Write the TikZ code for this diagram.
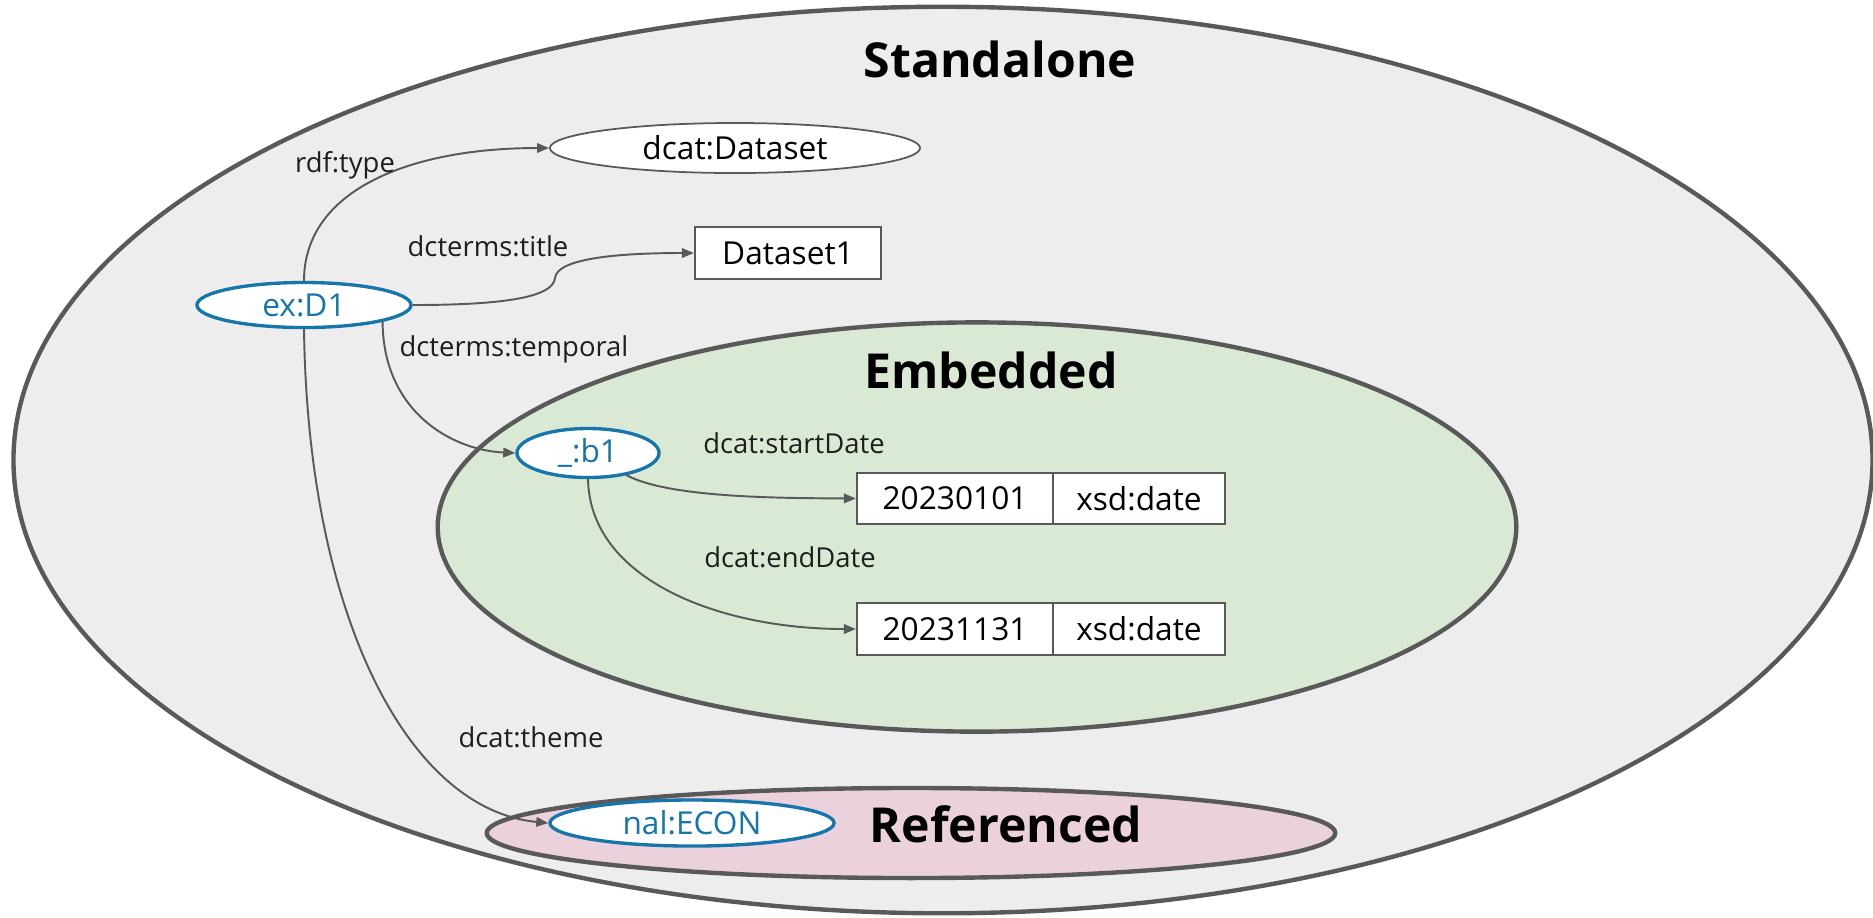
\documentclass[tikz,border=0pt]{standalone}
\usepackage{fontspec}
\setmainfont{Open Sans}
\usetikzlibrary{shapes.geometric,arrows.meta}

\definecolor{outline}{RGB}{89,89,89}
\definecolor{areaGray}{RGB}{237,237,237}
\definecolor{areaGreen}{RGB}{217,233,211}
\definecolor{areaPink}{RGB}{234,209,220}
\definecolor{iriBlue}{RGB}{22,118,172}
\definecolor{labelInk}{RGB}{30,30,30}

\tikzset{
  area/.style={ellipse, draw=outline, line width=1.25pt, inner sep=0pt},
  areatitle/.style={font=\fontsize{13.7}{16}\selectfont\bfseries, anchor=base, text=black, inner sep=0pt},
  iri/.style={ellipse, draw=iriBlue, line width=0.95pt, fill=white, text=iriBlue, inner sep=0pt,
              font=\fontsize{9}{10}\selectfont},
  cls/.style={ellipse, draw=outline, line width=0.5pt, fill=white, inner sep=0pt,
              font=\fontsize{9}{10}\selectfont},
  literal/.style={rectangle, draw=outline, line width=0.6pt, fill=white, inner sep=0pt,
              font=\fontsize{9}{10}\selectfont},
  prop/.style={font=\fontsize{7.8}{9}\selectfont, text=labelInk, inner sep=0pt},
  rel/.style={draw=outline, line width=0.55pt, -{Triangle[length=1.2mm,width=0.95mm]}},
}

\begin{document}
\begin{tikzpicture}[x=0.01cm,y=-0.01cm]
\useasboundingbox (0,0) rectangle (1873,917);

% nested description areas
\node[area, fill=areaGray,  minimum width=185.8mm, minimum height=90.6mm] (standalone) at (943,460) {};
\node[area, fill=areaGreen, minimum width=107.8mm, minimum height=40.9mm] (embedded)   at (977,527) {};
\node[area, fill=areaPink,  minimum width=84.8mm,  minimum height=9mm]    (referenced) at (911,833) {};

\node[areatitle] (standaloneTitle) at (1000,77)  {Standalone};
\node[areatitle] (embeddedTitle)   at (991,388)  {Embedded};
\node[areatitle] (referencedTitle) at (1006,842) {Referenced};

% resources and literals
\node[iri, minimum width=21.4mm, minimum height=4.5mm] (d1) at (304,305) {ex:D1};
\node[cls, minimum width=37mm, minimum height=5mm] (dataset) at (735,148) {dcat:Dataset};
\node[literal, minimum width=18.6mm, minimum height=5.2mm] (title) at (788,253) {Dataset1};
\node[iri, minimum width=14.2mm, minimum height=4.9mm] (b1) at (588,453) {\_:b1};

\node[literal, minimum width=19.6mm, minimum height=5.1mm] (sd)  at (955,498.5) {20230101};
\node[literal, minimum width=17.2mm, minimum height=5.1mm] (sdt) at (1139,498.5) {xsd:date};
\node[literal, minimum width=19.6mm, minimum height=5.2mm] (ed)  at (955,629) {20231131};
\node[literal, minimum width=17.2mm, minimum height=5.2mm] (edt) at (1139,629) {xsd:date};

\node[iri, minimum width=28.4mm, minimum height=4.6mm] (econ) at (692,823) {nal:ECON};

% properties
\draw[rel] (d1.north) .. controls (304,190) and (410,148) .. (dataset.west);
\draw[rel] (d1.east) .. controls (500,305) and (553,298) .. (555,278)
                     .. controls (557,258) and (620,253) .. (title.west);
\draw[rel] (d1.-12) .. controls (383,410) and (450,450) .. (b1.west);
\draw[rel] (d1.south) .. controls (308,620) and (410,810) .. (econ.west);
\draw[rel] (b1.-30) .. controls (670,498) and (780,498) .. (sd.west);
\draw[rel] (b1.south) .. controls (590,580) and (720,629) .. (ed.west);

% property labels
\node[prop] (lblType)     at (345,165) {rdf:type};
\node[prop] (lblTitle)    at (488,246) {dcterms:title};
\node[prop] (lblTemporal) at (514,349) {dcterms:temporal};
\node[prop] (lblStart)    at (794,443) {dcat:startDate};
\node[prop] (lblEnd)      at (790,557) {dcat:endDate};
\node[prop] (lblTheme)    at (531,737) {dcat:theme};
\end{tikzpicture}
\end{document}
